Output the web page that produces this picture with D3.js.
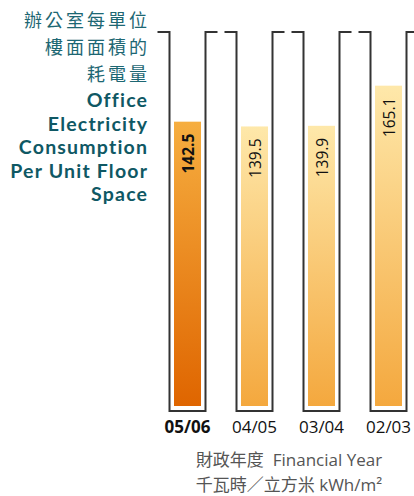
<!DOCTYPE html>
<html>
<head>
<meta charset="utf-8">
<script src="https://cdn.jsdelivr.net/npm/d3@7"></script>
<style>
  html, body { margin: 0; padding: 0; background: #fff; }
  svg { display: block; }
</style>
</head>
<body>
<svg id="chart" width="414" height="496"></svg>
<script>
// Financial years, newest first, and electricity use per unit floor area (kWh/m²)
const years = ["05/06", "04/05", "03/04", "02/03"];
const values = [142.5, 139.5, 139.9, 165.1];
const titleZh = ["辦公室每單位", "樓面面積的", "耗電量"];
const titleEn = ["Office", "Electricity", "Consumption", "Per Unit Floor", "Space"];
const axisTitle = ["財政年度\u00a0\u00a0Financial Year", "千瓦時／立方米 kWh/m²"];

const svg = d3.select("#chart");
const cjk = "'Noto Sans CJK TC', 'Noto Sans', sans-serif";
const latin = "'Open Sans', 'Noto Sans', 'Noto Sans CJK TC', sans-serif";
const titleFont = "Lato, 'Open Sans', sans-serif";

const x = d3.scalePoint().domain(years).range([187.5, 388.5]);
const y = d3.scaleLinear().domain([-36, 174]).range([406, 71.5]);

const tubeHalf = 18, tubeTop = 32, tubeBottom = 411, stub = 12;
const barHalf = 13.5;

// gradients
const defs = svg.append("defs");
function grad(id, top, bottom) {
  const g = defs.append("linearGradient").attr("id", id)
    .attr("x1", 0).attr("y1", 0).attr("x2", 0).attr("y2", 1);
  g.append("stop").attr("offset", "0%").attr("stop-color", top);
  g.append("stop").attr("offset", "100%").attr("stop-color", bottom);
}
grad("gCurrent", "#F6AE40", "#DF6500");
grad("gPast", "#FEE8AA", "#F4A83E");

// tube outlines
svg.append("g").selectAll("path").data(years).join("path")
  .attr("d", d => {
    const l = x(d) - tubeHalf, r = x(d) + tubeHalf;
    return `M${l - stub},${tubeTop}H${l}V${tubeBottom}H${r}V${tubeTop}H${r + stub}`;
  })
  .attr("fill", "none")
  .attr("stroke", "#333")
  .attr("stroke-width", 2);

// bars
svg.append("g").selectAll("rect").data(values).join("rect")
  .attr("x", (d, i) => x(years[i]) - barHalf)
  .attr("width", barHalf * 2)
  .attr("y", d => y(d))
  .attr("height", d => y.range()[0] - y(d))
  .attr("fill", (d, i) => i === 0 ? "url(#gCurrent)" : "url(#gPast)");

// value labels
svg.append("g").selectAll("text").data(values).join("text")
  .attr("transform", (d, i) => `translate(${x(years[i])},${y(d) + 12}) rotate(-90)`)
  .attr("text-anchor", "end")
  .attr("dominant-baseline", "central")
  .attr("font-family", latin)
  .attr("font-size", 15.5)
  .attr("font-weight", (d, i) => i === 0 ? 700 : 400)
  .attr("fill", "#111")
  .text(d => d.toFixed(1));

// year labels
svg.append("g").selectAll("text").data(years).join("text")
  .attr("x", d => x(d))
  .attr("y", 433)
  .attr("text-anchor", "middle")
  .attr("font-family", latin)
  .attr("font-size", 17)
  .attr("font-weight", (d, i) => i === 0 ? 700 : 400)
  .attr("fill", "#111")
  .text(d => d);

// axis title
svg.append("text")
  .attr("text-anchor", "middle")
  .attr("font-family", latin)
  .attr("font-size", 17)
  .attr("fill", "#555")
  .selectAll("tspan").data(axisTitle).join("tspan")
  .attr("x", 289)
  .attr("y", (d, i) => 466 + i * 25)
  .text(d => d);

// chart title (left), Chinese then English
svg.append("text")
  .attr("text-anchor", "end")
  .attr("font-family", cjk)
  .attr("font-size", 18)
  .attr("letter-spacing", 3)
  .attr("fill", "#1d6773")
  .selectAll("tspan").data(titleZh).join("tspan")
  .attr("x", 150)
  .attr("y", (d, i) => 27 + i * 27)
  .text(d => d);

svg.append("text")
  .attr("text-anchor", "end")
  .attr("font-family", titleFont)
  .attr("font-size", 19.5)
  .attr("font-weight", 700)
  .attr("letter-spacing", 1.2)
  .attr("fill", "#0f5864")
  .selectAll("tspan").data(titleEn).join("tspan")
  .attr("x", 148.2)
  .attr("y", (d, i) => 107 + i * 23.5)
  .text(d => d);
</script>
</body>
</html>
